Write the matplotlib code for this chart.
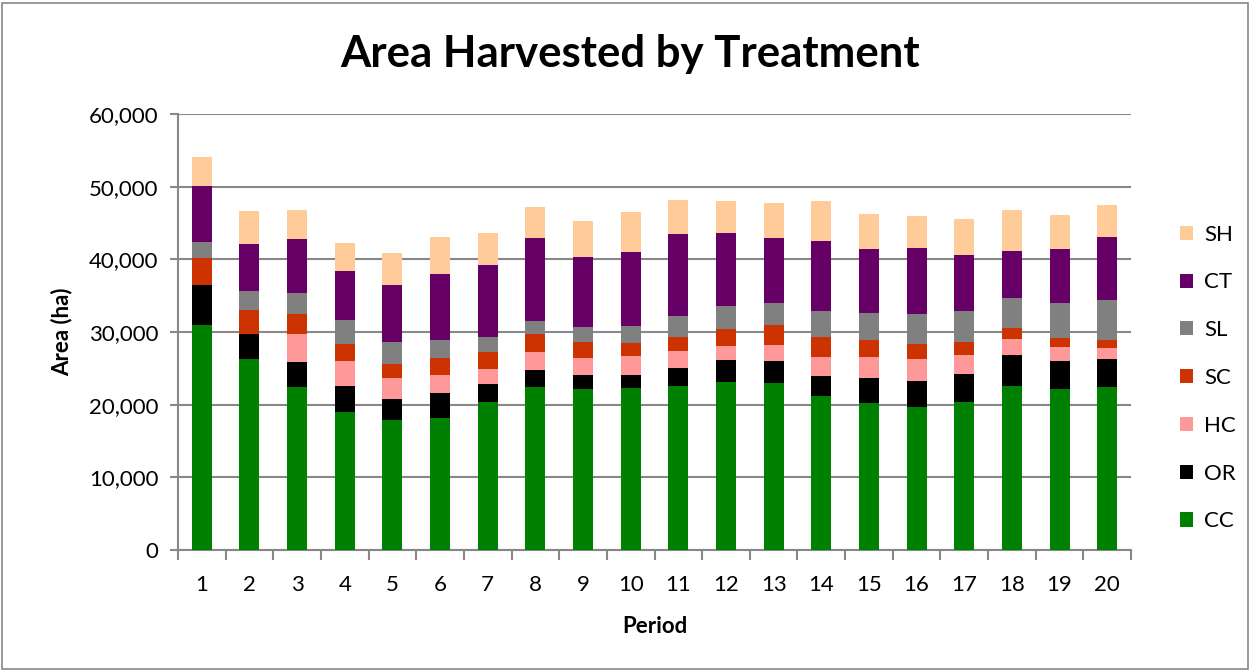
import matplotlib.pyplot as plt
import matplotlib.patches as mpatches
import numpy as np

# Periods and harvested area per treatment (ha)
periods = [str(i) for i in range(1, 21)]
cc = [30960, 26280, 22430, 18940, 17840, 18120, 20320, 22430, 22160, 22250,
      22520, 23120, 22940, 21190, 20230, 19630, 20370, 22520, 22160, 22430]
orr = [5500, 3490, 3440, 3620, 2940, 3490, 2520, 2340, 1970, 1790,
       2520, 3030, 3070, 2800, 3440, 3670, 3900, 4360, 3900, 3850]
hc = [0, 0, 3810, 3440, 2890, 2480, 2110, 2430, 2250, 2660,
      2290, 1880, 2160, 2520, 2890, 2940, 2570, 2160, 1835, 1560]
sc = [3750, 3300, 2840, 2390, 1970, 2385, 2250, 2520, 2200, 1835,
      2020, 2430, 2750, 2840, 2385, 2110, 1835, 1470, 1330, 1100]
sl = [2150, 2520, 2800, 3260, 2980, 2430, 2110, 1790, 2060, 2340,
      2840, 3165, 3070, 3530, 3670, 4130, 4270, 4170, 4770, 5460]
ct = [7800, 6560, 7520, 6700, 7800, 9040, 9910, 11470, 9680, 10140,
      11280, 10000, 8900, 9680, 8850, 9080, 7660, 6470, 7430, 8620]
sh = [3950, 4540, 3940, 3900, 4450, 5140, 4400, 4220, 4950, 5500,
      4680, 4360, 4860, 5500, 4725, 4400, 4910, 5600, 4720, 4450]

series = [("CC", cc, "#008000"), ("OR", orr, "#000000"), ("HC", hc, "#FF9999"),
          ("SC", sc, "#CC3300"), ("SL", sl, "#808080"), ("CT", ct, "#660066"),
          ("SH", sh, "#FFCC99")]

plt.rcParams['font.family'] = ['Lato', 'DejaVu Sans']

fig = plt.figure(figsize=(12.51, 6.71), dpi=100)
ax = fig.add_axes([178 / 1251, 1 - 550 / 671, (1131 - 178) / 1251, (550 - 114) / 671])

x = np.arange(1, len(periods) + 1)
bottom = np.zeros(len(periods))
handles = []
for name, vals, col in series:
    vals = np.array(vals, dtype=float)
    b = ax.bar(x, vals, 0.42, bottom=bottom, color=col, label=name, zorder=3)
    handles.append(b)
    bottom += vals

ax.set_xlim(0.5, 20.5)
ax.set_ylim(0, 60000)
ax.set_yticks(np.arange(0, 60001, 10000))
ax.set_yticklabels([f"{v:,}" for v in range(0, 60001, 10000)], fontsize=16)
ax.yaxis.grid(True, color="#888888", linewidth=1.5, zorder=0)
ax.set_axisbelow(True)

ax.set_xticks(x)
ax.set_xticklabels(periods, fontsize=16)
ax.set_xticks(np.arange(0.5, 21, 1), minor=True)
ax.tick_params(axis='x', which='major', length=0, pad=18)
ax.tick_params(axis='x', which='minor', length=7, color="#888888", width=1.5)
ax.tick_params(axis='y', length=6, color="#888888", width=1.5, pad=8)

for s in ['top', 'right']:
    ax.spines[s].set_visible(False)
for s in ['left', 'bottom']:
    ax.spines[s].set_color("#888888")
    ax.spines[s].set_linewidth(1.5)

ax.set_xlabel("Period", fontsize=16, fontweight='bold')
ax.set_ylabel("Area (ha)", fontsize=16, fontweight='bold')
ax.xaxis.set_label_coords(0.5, -66 / 436)
ax.yaxis.set_label_coords(-106 / 953, 0.5)
fig.text(630 / 1251, 1 - 54 / 671, "Area Harvested by Treatment", fontsize=31.5,
         fontweight='bold', ha='center', va='center')

leg = fig.legend(handles[::-1], [s[0] for s in series][::-1],
                 loc='center left', bbox_to_anchor=(1160 / 1251, 1 - 378 / 671),
                 frameon=False, fontsize=16, handlelength=0.6, handleheight=0.6,
                 labelspacing=1.25, handletextpad=0.5)

fig.patches.append(mpatches.Rectangle((2 / 1251, 2 / 671), 1246 / 1251, 666 / 671,
                                      transform=fig.transFigure, fill=False,
                                      edgecolor="#888888", linewidth=1.2))

fig.savefig("out.png", dpi=100)
